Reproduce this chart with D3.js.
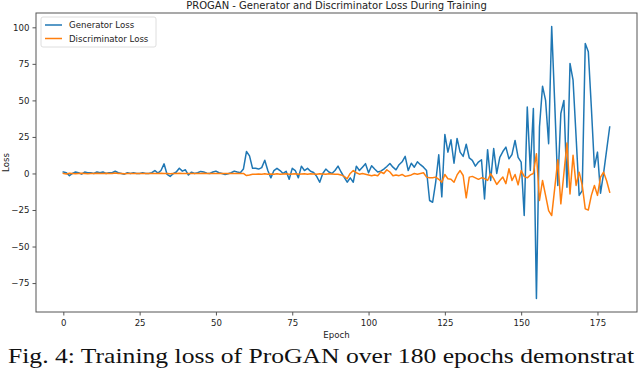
<!DOCTYPE html>
<html>
<head>
<meta charset="utf-8">
<script src="https://cdn.jsdelivr.net/npm/d3@7"></script>
<style>
  body { margin: 0; background: #fff; }
  svg { display: block; }
</style>
</head>
<body>
<svg id="chart" width="640" height="368"></svg>
<script>
// epoch-by-epoch losses
const generatorLoss = [
  1, 0.5, -1.5, 0, 1, 0.5, -0.5, 1, 0.5, 0.5, 0, 1, 0.5, 1, 0, 0.5, 0.5, 1.5, 0.5, 0, -0.5, 0.5, 0, 0.5, 0, 0, 0.5, 0, 0, 0.5,
  2, 0.2, 2, 6.6, -0.7, -2, -0.2, 1, 3.6, 1.6, 2.5, -1.1, 0.9, 0, 0.5, 1.4, 1, 0.2, 0, 1, 1.6, 0.5, 0, -0.7, -0.2, 0.5, 1.6, 1, 0.5, 3,
  15, 12, 3.5, 3.5, 3, 4, 9, 2, -3, 2, 3.5, 2, 0, 1.5, -4, 3.5, 2, -3, 5, 2, 3.5, 1.5, 0.7, -2, -6, 0, 3, 1, 0, 2,
  5, 1, -2.5, -6, -3, -6, 5, 2, 4.3, 6.7, 0.5, 5.3, 3, 1, 1.6, 3, 4.8, 6.8, 4.3, 2.5, 6, 8, 11.7, 2, 7, 4.3, 8, 6, 4.3, 2,
  -18.5, -19.7, -6, 12.8, -16, 26.7, 14.6, 23, 7, 24, 14.6, 11.7, 20, 10.6, 9, 5, 7.8, 9.4, -17.4, 16.3, -4.8, 17, 0, 11, 15, 18, 10, 13, 22.6, 11,
  7.8, -28.8, 45.5, 2, 44.4, -85.5, 31.8, 59.7, 50, 20.4, 100.5, 47.8, -8.2, 41, 50, -9.4, 75.3, 63.8, 25, -15, -11.7, 89, 83.3, 45, 4.3, 14.6, -13.5, 0, 16, 31.8
];
const discriminatorLoss = [
  0, -0.3, 0.2, 0, -0.2, 0, 0.2, 0, -0.2, 0, 0, 0.2, 0, 0, 0.2, 0, 0, 0.3, 0, 0, -0.2, 0, 0, 0, 0, 0, 0, 0, 0, 0,
  0, 0, 0.2, 0, 0, -0.2, 0, 0, 0.2, 0, 0, 0, 0, 0, 0, 0, 0.2, 0, 0, 0, 0, 0, 0, 0, 0, 0, 0, 0, 0, 0,
  -1.4, -1, -0.5, -0.5, -0.3, -0.5, -0.2, -0.5, -0.3, -0.5, -0.2, -0.5, -0.3, -0.2, -0.5, -0.3, -0.2, -0.5, -0.3, -0.2, -0.5, -0.2, -0.3, -0.5, -0.2, -0.3, -0.5, -0.2, -0.3, -0.5,
  -0.5, -1, -2, -3.6, 0, 2, 0.5, -0.5, 0, -0.5, -1, -1.5, -1, -1.5, 1, 0, 2.5, 1, -1.5, -1, -1.5, -0.7, -2, -1.5, -1, 0, -0.5, 0, 0.5, -2.5,
  -3, -3, -2.5, -4, -6, -0.7, -3.6, -4, -6, -1, 2, -1.4, -16.7, -2.5, -2, -3, -4, -3, -3.5, -4.8, -0.2, -3.6, -7.5, -4.8, -2.5, -7, 3.2, -4.8, -0.7, -7.8,
  2, -2, -3, -1, 0, 13.5, -18.5, -4.8, -15, -25.4, -28.8, -10, 9.4, -20.8, 0, 20.8, -14, 12.4, -8.2, 0.9, -8, -24.2, -25, -15, -8.2, -15, -2.5, 0.9, -5, -12.8
];
const epochs = d3.range(generatorLoss.length);
const xTicks = [0, 25, 50, 75, 100, 125, 150, 175];
const yTicks = [-75, -50, -25, 0, 25, 50, 75, 100];
const seriesNames = ['Generator Loss', 'Discriminator Loss'];
const seriesColors = ['#1f77b4', '#ff7f0e'];

const titleText = 'PROGAN - Generator and Discriminator Loss During Training';
const captionText = 'Fig. 4: Training loss of ProGAN over 180 epochs demonstrat';

const plot = { left: 36, right: 637, top: 13, bottom: 312 };
const font = 'DejaVu Sans, sans-serif';

const svg = d3.select('#chart');

// matplotlib-style 5% padding on both axes
const xExt = d3.extent(epochs);
const xPad = (xExt[1] - xExt[0]) * 0.05;
const x = d3.scaleLinear()
  .domain([xExt[0] - xPad, xExt[1] + xPad])
  .range([plot.left, plot.right]);

const yExt = d3.extent(generatorLoss.concat(discriminatorLoss));
const yPad = (yExt[1] - yExt[0]) * 0.05;
const y = d3.scaleLinear()
  .domain([yExt[0] - yPad, yExt[1] + yPad])
  .range([plot.bottom, plot.top]);

const line = d3.line()
  .x((d, i) => x(epochs[i]))
  .y(d => y(d));

[generatorLoss, discriminatorLoss].forEach((s, i) => {
  svg.append('path')
    .datum(s)
    .attr('d', line)
    .attr('fill', 'none')
    .attr('stroke', seriesColors[i])
    .attr('stroke-width', 1.5)
    .attr('stroke-linejoin', 'round')
    .attr('stroke-linecap', 'square');
});

// frame
svg.append('rect')
  .attr('x', plot.left)
  .attr('y', plot.top)
  .attr('width', plot.right - plot.left)
  .attr('height', plot.bottom - plot.top)
  .attr('fill', 'none')
  .attr('stroke', '#555')
  .attr('stroke-width', 1);

const xAxis = svg.append('g')
  .attr('transform', 'translate(0,' + plot.bottom + ')')
  .call(d3.axisBottom(x).tickValues(xTicks).tickSize(3.5).tickPadding(4))
  .call(g => g.select('.domain').remove());
xAxis.selectAll('line').attr('stroke', '#555');
xAxis.selectAll('text').attr('fill', '#222').style('font', '8.6px ' + font);

const yAxis = svg.append('g')
  .attr('transform', 'translate(' + plot.left + ',0)')
  .call(d3.axisLeft(y).tickValues(yTicks).tickSize(3.5).tickPadding(3))
  .call(g => g.select('.domain').remove());
yAxis.selectAll('line').attr('stroke', '#555');
yAxis.selectAll('text').attr('fill', '#222').style('font', '8.6px ' + font);

// labels
svg.append('text')
  .attr('x', (plot.left + plot.right) / 2)
  .attr('y', 338)
  .attr('text-anchor', 'middle')
  .style('font', '8.6px ' + font)
  .attr('fill', '#222')
  .text('Epoch');

svg.append('text')
  .attr('transform', 'translate(9,' + (plot.top + plot.bottom) / 2 + ') rotate(-90)')
  .attr('text-anchor', 'middle')
  .style('font', '8.6px ' + font)
  .attr('fill', '#222')
  .text('Loss');

svg.append('text')
  .attr('x', (plot.left + plot.right) / 2)
  .attr('y', 8.5)
  .attr('text-anchor', 'middle')
  .style('font', '10px ' + font)
  .attr('fill', '#222')
  .text(titleText);

// legend
const legend = svg.append('g').attr('transform', 'translate(41,17)');
legend.append('rect')
  .attr('width', 115)
  .attr('height', 30)
  .attr('rx', 2)
  .attr('fill', 'rgba(255,255,255,0.8)')
  .attr('stroke', '#d6d6d6')
  .attr('stroke-width', 0.8);
seriesNames.forEach((name, i) => {
  const row = legend.append('g').attr('transform', 'translate(0,' + (8 + i * 13.5) + ')');
  row.append('line')
    .attr('x1', 4).attr('x2', 21)
    .attr('stroke', seriesColors[i])
    .attr('stroke-width', 1.5);
  row.append('text')
    .attr('x', 28)
    .attr('y', 3)
    .style('font', '8.6px ' + font)
    .attr('fill', '#222')
    .text(name);
});

// caption of the paper figure
svg.append('text')
  .attr('x', 8)
  .attr('y', 362.5)
  .style('font', '21px "Liberation Serif", "Times New Roman", serif')
  .attr('fill', '#111')
  .attr('textLength', 626)
  .attr('lengthAdjust', 'spacingAndGlyphs')
  .text(captionText);
</script>
</body>
</html>
